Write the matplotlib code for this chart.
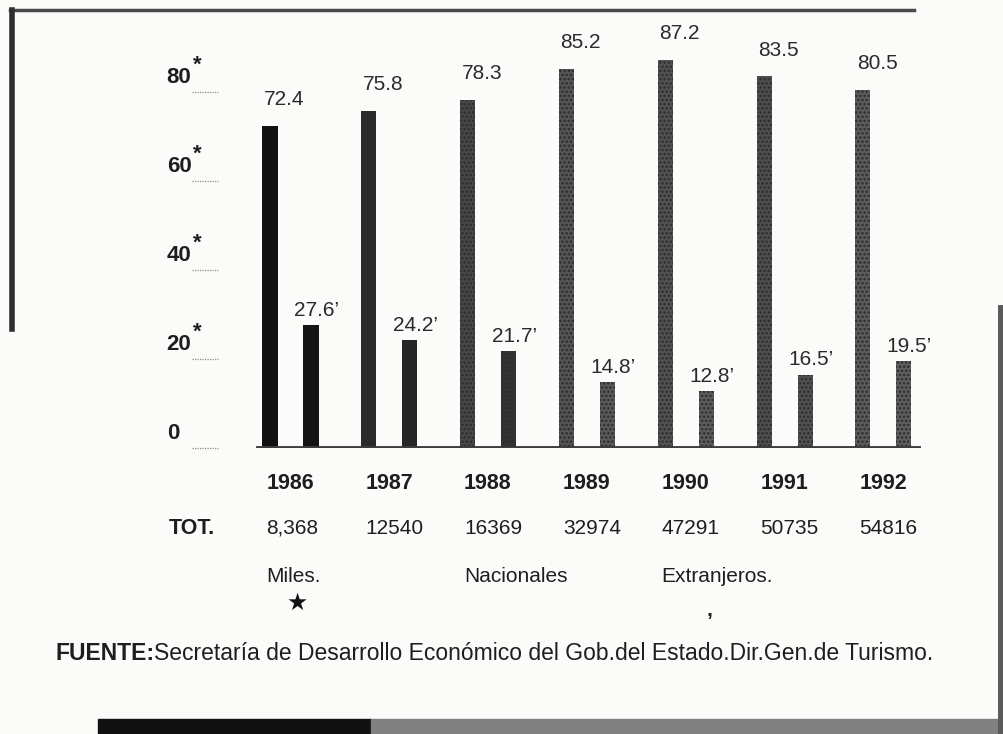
"""Turistas hospedados 1986-1992: Nacionales vs Extranjeros (%)."""

import matplotlib

matplotlib.use("Agg")

import matplotlib.pyplot as plt
from matplotlib.transforms import blended_transform_factory

years = ["1986", "1987", "1988", "1989", "1990", "1991", "1992"]
nacionales = [72.4, 75.8, 78.3, 85.2, 87.2, 83.5, 80.5]
extranjeros = [27.6, 24.2, 21.7, 14.8, 12.8, 16.5, 19.5]
totales = ["8,368", "12540", "16369", "32974", "47291", "50735", "54816"]
y_ticks = [0, 20, 40, 60, 80]
fuente = "Secretaría de Desarrollo Económico del Gob.del Estado.Dir.Gen.de Turismo."

plt.rcParams["font.family"] = ["Liberation Sans", "DejaVu Sans"]
plt.rcParams["hatch.linewidth"] = 1.2

ink = "#1e1e1e"
tall_colors = ["#111111", "#2a2a2a", "#474747", "#555555", "#525252", "#4e4e4e", "#5c5c5c"]
short_colors = ["#141414", "#262626", "#333333", "#5a5a5a", "#5c5c5c", "#515151", "#5e5e5e"]

fig = plt.figure(figsize=(10.04, 7.34), dpi=100, facecolor="#fbfbfa")
ax = fig.add_axes([0.2241, 0.3896, 0.7072, 0.6063])
ax.set_facecolor("none")

offset = 0.2075
width = 0.152
x_tall = [i - offset for i in range(len(years))]
x_short = [i + offset for i in range(len(years))]

tall = ax.bar(x_tall, nacionales, width=width, color=tall_colors, linewidth=0,
              zorder=2)
short = ax.bar(x_short, extranjeros, width=width, color=short_colors,
               linewidth=0, zorder=2)
# mottled scan texture on the grey bars
for patch in list(tall)[1:] + list(short)[2:]:
    patch.set_hatch("....")
    patch.set_edgecolor("#2c2c2c")

ax.set_xlim(-0.663, 6.523)
ax.set_ylim(0, 100)
for side in ax.spines.values():
    side.set_visible(False)
ax.set_xticks([])
ax.set_yticks([])

# thick baseline
ax.axhline(0, xmin=0.046, xmax=0.976, color="#3d3d3d", linewidth=3.5, zorder=3)

# y scale: value, superscript star and a short dotted underline
ytrans = blended_transform_factory(fig.transFigure, ax.transData)
for v in y_ticks:
    ax.plot([0.191, 0.217], [v, v], transform=ytrans, color="#8a8a8a",
            linewidth=0.9, linestyle=(0, (1, 1)), clip_on=False)
    ax.annotate(str(v), xy=(0.166, v), xycoords=ytrans, xytext=(0, 3),
                textcoords="offset points", ha="left", va="bottom",
                fontsize=16, fontweight="bold", color=ink)
    if v:
        ax.annotate("*", xy=(0.192, v), xycoords=ytrans, xytext=(0, 12),
                    textcoords="offset points", ha="left", va="bottom",
                    fontsize=16, fontweight="bold", color=ink)

# value labels
for x, v in zip(x_tall, nacionales):
    ax.annotate(f"{v:.1f}", xy=(x - width / 2, v), xytext=(1, 12),
                textcoords="offset points", ha="left", va="bottom",
                fontsize=15, color="#2a2a2a", clip_on=False)
for x, v in zip(x_short, extranjeros):
    ax.annotate(f"{v:.1f}\u2019", xy=(x, v), xytext=(4, 4),
                textcoords="offset points", ha="center", va="bottom",
                fontsize=15, color="#2a2a2a", clip_on=False)

# years, totals and legend words under the baseline
for x, yr, tot in zip(x_tall, years, totales):
    ax.text(x - width / 2 + 0.04, -7.9, yr, ha="left", va="center",
            fontsize=15.5, fontweight="bold", color=ink)
    ax.text(x - width / 2 + 0.04, -18.0, tot, ha="left", va="center",
            fontsize=15, color=ink)
ax.text(0.168, -18.0, "TOT.", transform=ytrans, ha="left", va="center",
        fontsize=15.5, fontweight="bold", color=ink)

ax.text(x_tall[0] - width / 2 + 0.04, -28.8, "Miles.", ha="left", va="center",
        fontsize=15, color=ink)
ax.text(x_tall[0] + 0.27, -34.9, "\u2605", ha="center", va="center",
        fontsize=17, color="#111111", family=["DejaVu Sans"])
ax.text(x_tall[2] - width / 2 + 0.04, -28.8, "Nacionales", ha="left",
        va="center", fontsize=15, color=ink)
ax.text(x_tall[4] - width / 2 + 0.04, -28.8, "Extranjeros.", ha="left",
        va="center", fontsize=15, color=ink)
ax.text(x_tall[4] + 0.45, -36.5, ",", ha="center", va="center",
        fontsize=15, fontweight="bold", color=ink)

# source line
label = fig.text(0.055, 1 - 653 / 734, "FUENTE:", ha="left", va="center",
                 fontsize=16.5, fontweight="bold", color=ink)
ax.annotate(fuente, xy=(1, 0.5), xycoords=label, ha="left", va="center",
            fontsize=16.5, color=ink, annotation_clip=False)

# scanned page frame pieces
fig.add_artist(plt.Line2D([0.010, 0.910], [0.986, 0.986], color="#4a4a4a",
                          linewidth=2.5))
fig.add_artist(plt.Line2D([0.012, 0.012], [0.986, 0.552], color="#2e2e2e",
                          linewidth=4))
fig.add_artist(plt.Line2D([0.997, 0.997], [0.581, 0.0], color="#5a5a5a",
                          linewidth=5))
fig.add_artist(plt.Rectangle((0.098, 0.0), 0.272, 0.021, color="#111111",
                             transform=fig.transFigure))
fig.add_artist(plt.Rectangle((0.370, 0.0), 0.630, 0.021, color="#808080",
                             transform=fig.transFigure))

fig.savefig("out.png", dpi=100, facecolor=fig.get_facecolor())
